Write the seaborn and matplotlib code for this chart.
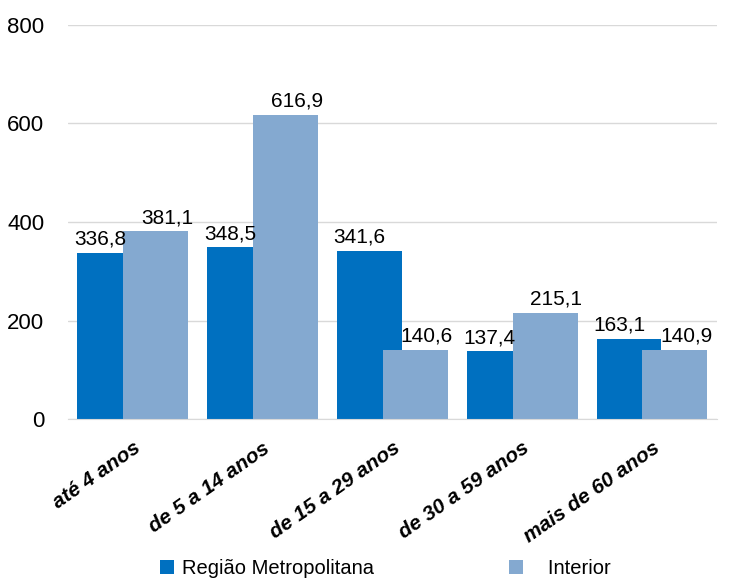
import pandas as pd
import seaborn as sns
import matplotlib.pyplot as plt

# Chart data
categories = ["até 4 anos", "de 5 a 14 anos", "de 15 a 29 anos", "de 30 a 59 anos", "mais de 60 anos"]
metro = [336.8, 348.5, 341.6, 137.4, 163.1]
interior = [381.1, 616.9, 140.6, 215.1, 140.9]
series_names = ["Região Metropolitana", "Interior"]
colors = ["#0070C0", "#84A9D0"]

df = pd.DataFrame({
    "faixa": categories * 2,
    "valor": metro + interior,
    "serie": [series_names[0]] * len(categories) + [series_names[1]] * len(categories),
})

sns.set_style("white")
plt.rcParams["font.family"] = ["Liberation Sans Narrow", "Liberation Sans", "DejaVu Sans"]
plt.rcParams["text.color"] = "black"
plt.rcParams["xtick.color"] = "black"
plt.rcParams["ytick.color"] = "black"

fig = plt.figure(figsize=(7.39, 5.78), dpi=100)
ax = fig.add_axes([0.092, 0.275, 0.878, 0.682])

sns.barplot(data=df, x="faixa", y="valor", hue="serie", palette=colors, saturation=1,
            width=0.708, gap=-0.413, errorbar=None, linewidth=0, ax=ax)

ax.set_ylim(0, 800)
ax.set_yticks([0, 200, 400, 600, 800])
ax.yaxis.grid(True, color="#D9D9D9", linewidth=1)
ax.set_axisbelow(True)
for s in ["left", "right", "top"]:
    ax.spines[s].set_visible(False)
ax.spines["bottom"].set_color("#D9D9D9")
ax.tick_params(axis="both", length=0)
ax.tick_params(axis="y", labelsize=16, labelcolor="black", pad=17)
ax.set_xlabel("")
ax.set_ylabel("")

plt.setp(ax.get_xticklabels(), rotation=35, ha="right", rotation_mode="anchor",
         fontsize=15, fontweight="bold", fontstyle="italic", color="black")
ax.tick_params(axis="x", pad=14)

# Value labels with comma decimals
offsets = [-7, 8]
for cont, dx in zip(ax.containers, offsets):
    labels = ax.bar_label(cont, fmt="%.1f", padding=3, fontsize=15, color="black")
    for t in labels:
        t.set_text(t.get_text().replace(".", ","))
        t.xyann = (dx, 3)

handles, _ = ax.get_legend_handles_labels()
ax.legend(handles, [series_names[0], "   " + series_names[1]],
          loc="lower center", bbox_to_anchor=(0.521, -0.032), bbox_transform=fig.transFigure,
          ncol=2, frameon=False, fontsize=14.5, handlelength=0.7, handleheight=0.7,
          handletextpad=0.4, columnspacing=6.7)

fig.savefig("out.png", dpi=100)
